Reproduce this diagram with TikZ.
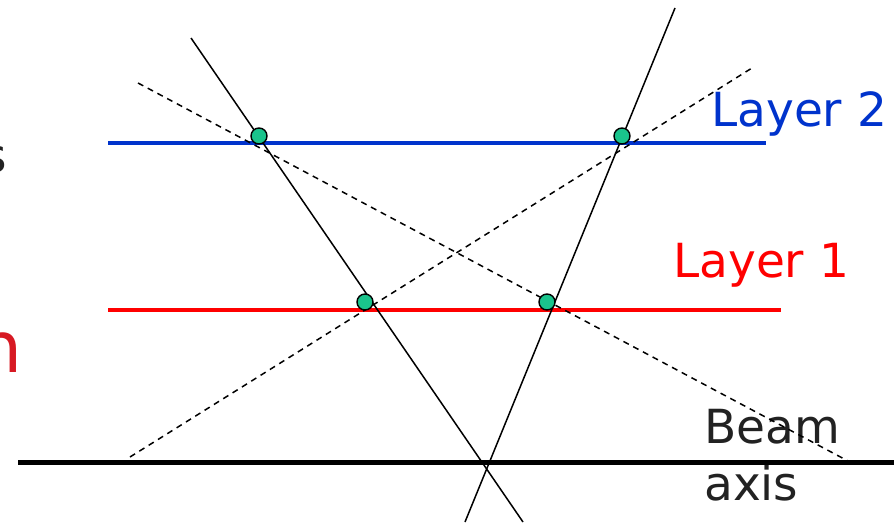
\documentclass[tikz,border=0pt]{standalone}
\usepackage{fontspec}
\setmainfont{DejaVu Sans}
\definecolor{layerblue}{RGB}{0,51,204}
\definecolor{layerred}{RGB}{255,0,0}
\definecolor{fragred}{RGB}{215,25,35}
\definecolor{hitfill}{RGB}{26,196,140}
\definecolor{txtgray}{RGB}{34,34,34}
\tikzset{
  layerline/.style={line width=4pt},
  beamline/.style={line width=5pt, black},
  trackline/.style={line width=1.5pt, black},
  ghostline/.style={line width=1.5pt, black, dash pattern=on 6pt off 5pt},
  hit/.style={circle, draw=black, line width=1.4pt, fill=hitfill, minimum size=16pt, inner sep=0pt},
  lbl/.style={inner sep=0pt, anchor=base west, font=\fontsize{47}{50}\selectfont}
}
\begin{document}
\begin{tikzpicture}[x=1pt,y=-1pt]
\useasboundingbox (0,0) rectangle (894,522);
\clip (0,0) rectangle (894,522);
% clipped fragments at the left edge
\node[inner sep=0pt, anchor=base east, text=txtgray, font=\fontsize{47}{50}\selectfont] (fragS) at (7.5,172) {s};
\node[inner sep=0pt, anchor=base east, text=fragred, font=\fontsize{71}{75}\selectfont] (fragN) at (22.5,372) {n};
% labels
\node[lbl, text=layerblue] (lay2) at (711,126) {Layer 2};
\node[lbl, text=layerred] (lay1) at (673,277) {Layer 1};
\node[lbl, text=txtgray] (beam) at (704,443) {Beam};
\node[lbl, text=txtgray] (axis) at (704,500) {axis};
% endpoints
\coordinate (l2a) at (108,143); \coordinate (l2b) at (766,143);
\coordinate (l1a) at (108,310); \coordinate (l1b) at (781,310);
\coordinate (ba) at (18,462); \coordinate (bb) at (894,462);
\coordinate (t1a) at (191,38); \coordinate (t1b) at (523,522);
\coordinate (t2a) at (675,8); \coordinate (t2b) at (465,522);
\coordinate (g1a) at (138,83); \coordinate (g1b) at (848,461);
\coordinate (g2a) at (130,457); \coordinate (g2b) at (752,68);
% layers and beam
\draw[layerline, layerblue] (l2a) -- (l2b);
\draw[layerline, layerred] (l1a) -- (l1b);
\draw[beamline] (ba) -- (bb);
% tracks
\draw[trackline] (t1a) -- (t1b);
\draw[trackline] (t2a) -- (t2b);
\draw[ghostline] (g1a) -- (g1b);
\draw[ghostline] (g2a) -- (g2b);
% hits
\node[hit] (h2l) at (259,136) {};
\node[hit] (h2r) at (622,136) {};
\node[hit] (h1l) at (365,302) {};
\node[hit] (h1r) at (547,302) {};
\end{tikzpicture}
\end{document}
